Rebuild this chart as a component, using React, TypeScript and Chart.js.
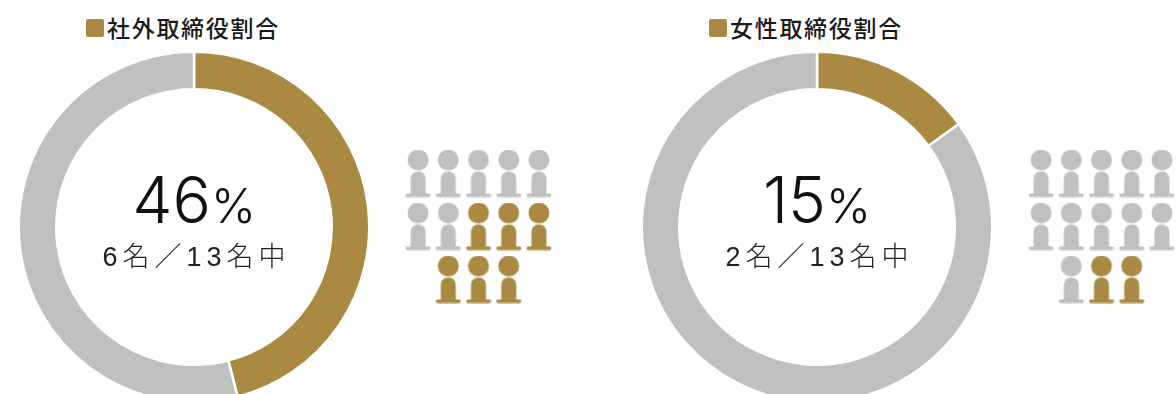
import React, { useEffect, useRef } from "react";
import { Chart, registerables } from "chart.js";

Chart.register(...registerables);

const GOLD = "#aa8a42";
const GREY = "#bfc1c0";
const LIGHT = '"Inter", "Liberation Sans", sans-serif';
const LATIN = '"Liberation Sans", "Noto Sans CJK JP", sans-serif';
const CJK = '"Noto Sans CJK JP", sans-serif';

// Board composition
const outsideTitle = "社外取締役割合";
const outsidePercent = [46, 54];
const outsideMembers = 6;
const womenTitle = "女性取締役割合";
const womenPercent = [15, 85];
const womenMembers = 2;
const boardSize = 13;

// Seats in the pictogram, in reading order: column, row
const seatColumns = [0, 1, 2, 3, 4, 0, 1, 2, 3, 4, 1, 2, 3];
const seatRows = [0, 0, 0, 0, 0, 1, 1, 1, 1, 1, 2, 2, 2];

function makeFigure(color: string): HTMLCanvasElement {
  const c = document.createElement("canvas");
  c.width = 26;
  c.height = 48;
  const g = c.getContext("2d")!;
  g.fillStyle = color;
  g.beginPath();
  g.arc(13, 10.5, 10.5, 0, Math.PI * 2);
  g.fill();
  g.beginPath();
  g.roundRect(5.5, 22, 15, 24, [7, 7, 0, 0]);
  g.fill();
  g.beginPath();
  g.roundRect(0.5, 44, 25, 3.5, 1.7);
  g.fill();
  return c;
}

function Ring({ left, data }: { left: number; data: number[] }) {
  const ref = useRef<HTMLCanvasElement>(null);
  useEffect(() => {
    const chart = new Chart(ref.current!, {
      type: "doughnut",
      data: {
        labels: ["該当", "その他"],
        datasets: [{ data, backgroundColor: [GOLD, GREY], borderColor: "#ffffff", borderWidth: 2.5 }],
      },
      options: {
        animation: false,
        responsive: false,
        cutout: "78.6%",
        layout: { padding: 0.5 },
        plugins: { legend: { display: false }, tooltip: { enabled: false } },
      },
    });
    return () => chart.destroy();
  }, []);
  return <canvas ref={ref} width={354} height={354} style={{ position: "absolute", left, top: 50 }} />;
}

function Seats({ left, highlighted }: { left: number; highlighted: number }) {
  const ref = useRef<HTMLCanvasElement>(null);
  useEffect(() => {
    const grey = makeFigure(GREY);
    const gold = makeFigure(GOLD);
    const points = seatColumns.map((x, i) => ({ x, y: seatRows[i] }));
    const firstGold = boardSize - highlighted;
    const chart = new Chart(ref.current!, {
      type: "scatter",
      data: {
        datasets: [
          {
            data: points,
            pointStyle: points.map((_, i) => (i >= firstGold ? gold : grey)),
          },
        ],
      },
      options: {
        animation: false,
        responsive: false,
        layout: { padding: 0, autoPadding: false },
        scales: {
          x: { display: false, min: -0.5, max: 4.5 },
          y: { display: false, min: -0.5, max: 2.5, reverse: true },
        },
        plugins: { legend: { display: false }, tooltip: { enabled: false } },
      },
    });
    return () => chart.destroy();
  }, []);
  return <canvas ref={ref} width={151} height={159} style={{ position: "absolute", left, top: 147 }} />;
}

function Panel({
  offset,
  title,
  percent,
  members,
}: {
  offset: number;
  title: string;
  percent: number[];
  members: number;
}) {
  const cx = offset + 194;
  return (
    <>
      <Ring left={cx - 177} data={percent} />
      <Seats left={offset + 403} highlighted={members} />
      <div
        style={{
          position: "absolute",
          left: offset + 86,
          top: 19,
          width: 18,
          height: 18,
          borderRadius: 2,
          background: GOLD,
        }}
      />
      <div
        style={{
          position: "absolute",
          left: offset + 107,
          top: 10,
          font: `500 23px/34px ${CJK}`,
          letterSpacing: 1.7,
          color: "#1a1a1a",
          whiteSpace: "nowrap",
        }}
      >
        {title}
      </div>
      <div
        style={{
          position: "absolute",
          left: cx - 120,
          width: 240,
          top: 160,
          textAlign: "center",
          font: `300 64px/80px ${LIGHT}`,
          color: "#111",
          whiteSpace: "nowrap",
        }}
      >
        {percent[0]}
        <span style={{ fontSize: 48 }}>%</span>
      </div>
      <div
        style={{
          position: "absolute",
          left: cx - 120,
          width: 245,
          top: 237,
          textAlign: "center",
          font: `300 27px/40px ${LATIN}`,
          letterSpacing: 5,
          color: "#222",
          whiteSpace: "nowrap",
        }}
      >
        {`${members}名／${boardSize}名中`}
      </div>
    </>
  );
}

export default function App() {
  return (
    <div
      style={{
        position: "absolute",
        left: 0,
        top: 0,
        width: 1176,
        height: 394,
        overflow: "hidden",
        background: "#fff",
      }}
    >
      <Panel offset={0} title={outsideTitle} percent={outsidePercent} members={outsideMembers} />
      <Panel offset={623} title={womenTitle} percent={womenPercent} members={womenMembers} />
    </div>
  );
}
